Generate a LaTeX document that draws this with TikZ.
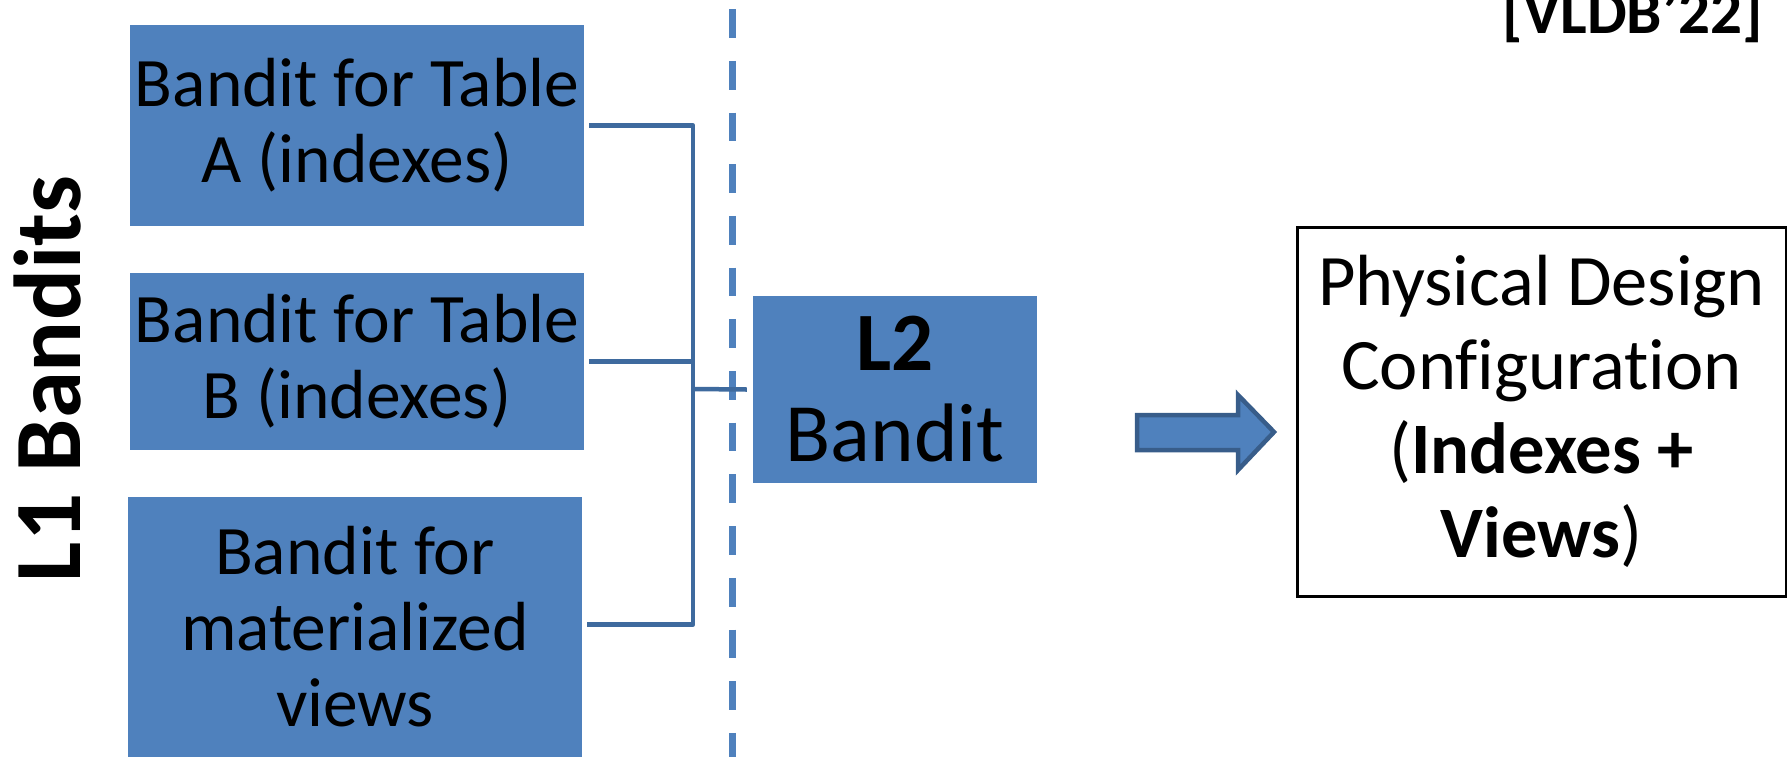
\documentclass[tikz,border=0pt]{standalone}
\usepackage{fontspec}
\setmainfont{Carlito}[Ligatures=NoCommon]
\definecolor{boxblue}{HTML}{4F81BD}
\definecolor{connblue}{HTML}{3E6A9E}
\definecolor{arrowedge}{HTML}{385D8A}
\tikzset{
  l1box/.style={fill=boxblue, draw=none, inner sep=0pt, align=center,
    minimum width=454pt, font=\fontsize{69.5}{76}\selectfont},
  conn/.style={draw=connblue, line width=4.5pt, line join=round},
  sepline/.style={draw=boxblue, line width=7pt, dash pattern=on 28.7pt off 23pt},
  blockarrow/.style={fill=boxblue, draw=arrowedge, line width=4.5pt, line join=miter},
}
\begin{document}
\begin{tikzpicture}[x=1pt,y=-1pt]
\useasboundingbox (0,0) rectangle (1787,756);
\clip (0,0) rectangle (1787,756);
% separator
\draw[sepline] (732,-42.6) -- (732,800);
% L1 label
\node[rotate=90, inner sep=0pt, font=\bfseries\fontsize{95}{100}\selectfont] (L1) at (48,379) {L1 Bandits};
% L1 boxes
\node[l1box, minimum height=201pt] (A) at (357,125.5) {Bandit for Table\\A (indexes)};
\node[l1box, minimum height=177pt] (B) at (357,361.5) {Bandit for Table\\B (indexes)};
\node[l1box, minimum height=261pt] (C) at (355,627) {Bandit for\\materialized\\views};
% L2 box
\node[fill=boxblue, inner sep=0pt, minimum width=284pt, minimum height=187pt, align=center,
  font=\fontsize{83}{91}\selectfont] (L2) at (895,389.5) {\textbf{L2}\\Bandit};
% connectors
\coordinate (bus) at (693,389);
\draw[conn] ([xshift=5pt]A.east) -| (bus);
\draw[conn] ([xshift=5pt,yshift=2.5pt]C.east) -| (bus);
\draw[conn] ([xshift=5pt]B.east) -| (bus);
\draw[conn] (bus) -- ([xshift=-6pt]L2.west);
% output box
\node[draw=black, line width=3pt, inner sep=0pt, minimum width=489pt, minimum height=369pt,
  align=center, font=\fontsize{72.5}{84}\selectfont] (PD) at (1541.5,411.5)
  {Physical Design\\Configuration\\(\textbf{Indexes +}\\\textbf{Views})};
% block arrow
\draw[blockarrow] (1137,415) -- (1238,415) -- (1238,395) -- (1274,432) -- (1238,470) -- (1238,450) -- (1137,450) -- cycle;
% reference tag
\node[anchor=base east, inner sep=0pt, font=\bfseries\fontsize{63}{70}\selectfont] (ref) at (1763,33) {[VLDB’22]};
\end{tikzpicture}
\end{document}
